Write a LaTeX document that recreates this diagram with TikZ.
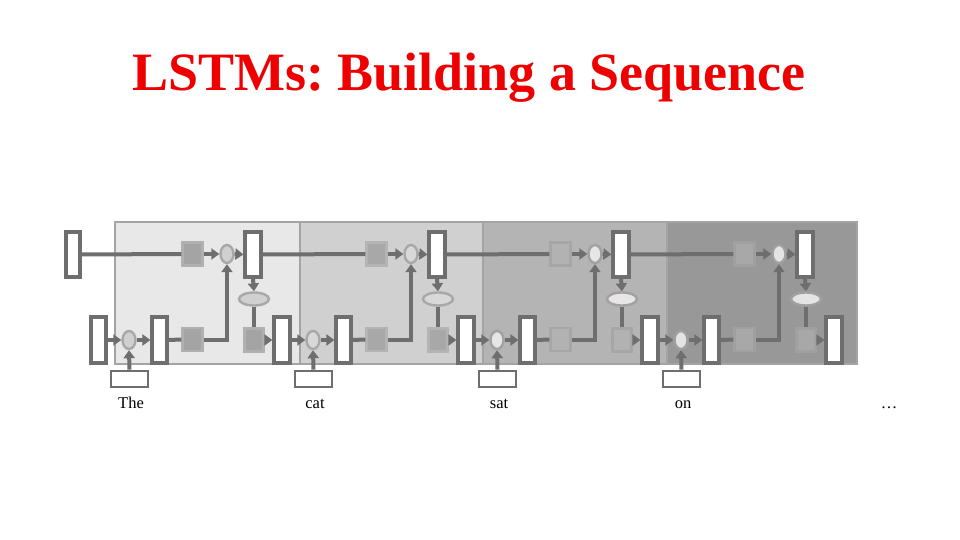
\documentclass[tikz,border=0pt]{standalone}
\usepackage{fontspec}
\setmainfont{Liberation Serif}
\usetikzlibrary{arrows.meta,shapes.geometric}
\definecolor{titlered}{HTML}{EE0000}
\definecolor{linegray}{HTML}{6E6E6E}
\definecolor{panelA}{HTML}{E8E8E8}
\definecolor{panelB}{HTML}{D0D0D0}
\definecolor{panelC}{HTML}{B4B4B4}
\definecolor{panelD}{HTML}{989898}
\definecolor{panelborder}{HTML}{A4A4A4}
\tikzset{
  conn/.style={draw=linegray, line width=4pt},
  arr/.style={conn, -{Triangle[length=8pt,width=11pt]}},
  vecbox/.style={draw=linegray, fill=white, line width=3.2pt, inner sep=0pt, minimum width=#1, minimum height=46pt},
  gatebox/.style={line width=2.4pt, inner sep=0pt, minimum width=20pt, minimum height=23pt},
  mulop/.style={ellipse, draw=#1, line width=2.4pt, inner sep=0pt, minimum width=13pt, minimum height=18pt},
  tanhop/.style={ellipse, draw=#1, line width=2.4pt, inner sep=0pt, minimum width=30pt, minimum height=13pt},
  inbox/.style={draw=linegray, fill=white, line width=2.6pt, inner sep=0pt, minimum width=37pt, minimum height=16pt},
  word/.style={font=\fontsize{16.5}{18}\selectfont, anchor=base},
  panel/.style={draw=panelborder, line width=2.5pt, fill=#1}
}
\begin{document}
\frenchspacing
\begin{tikzpicture}[x=1pt,y=-1pt]
\useasboundingbox (0,0) rectangle (960,540);
\fill[white] (0,0) rectangle (960,540);
% title
\node[anchor=base, text=titlered, font=\fontsize{54}{60}\selectfont\bfseries] (title) at (469,91) {LSTMs: Building a Sequence};
% panels
\path[panel=panelA] (115,222) rectangle (300,364);
\path[panel=panelB] (300,222) rectangle (483,364);
\path[panel=panelC] (483,222) rectangle (667,364);
\path[panel=panelD] (667,222) rectangle (857,364);
% initial states
\node[vecbox=14pt, minimum height=45pt] (c0) at (73,254.5) {};
\node[vecbox=15pt] (h0) at (98.5,340) {};
% cells
\foreach \k/\sq/\sqb/\ov/\ovb/\w [count=\i from 1] in {
  0/A4A4A4/B0B0B0/D0D0D0/A8A8A8/The,
  1/A8A8A8/B4B4B4/D8D8D8/A8A8A8/cat,
  2/B2B2B2/A6A6A6/E6E6E6/A4A0A0/sat,
  3/A8A8A8/A0A0A0/E4E4E4/A0A0A0/on}{
  \pgfmathsetmacro{\ox}{184*\k}
  \definecolor{sqf}{HTML}{\sq}
  \definecolor{sqd}{HTML}{\sqb}
  \definecolor{ovf}{HTML}{\ov}
  \definecolor{ovd}{HTML}{\ovb}
  \node[gatebox, draw=sqd, fill=sqf] (f\i) at (192.5+\ox,254) {};
  \node[mulop=ovd, fill=ovf] (mc\i) at (227+\ox,254) {};
  \node[vecbox=16pt, minimum height=45pt] (c\i) at (253+\ox,254.5) {};
  \node[tanhop=ovd, fill=ovf] (t\i) at (254+\ox,299) {};
  \node[gatebox, draw=sqd, fill=sqf, minimum width=19pt] (o\i) at (254+\ox,340) {};
  \node[vecbox=16pt] (h\i) at (282+\ox,340) {};
  \node[mulop=ovd, fill=ovf] (mi\i) at (129+\ox,340) {};
  \node[inbox] (x\i) at (129.5+\ox,379) {};
  \node[vecbox=15pt] (g\i) at (159.5+\ox,340) {};
  \node[gatebox, draw=sqd, fill=sqf] (ig\i) at (192.5+\ox,339.5) {};
  \node[word] (w\i) at (131+\ox,408) {\w};
}
% connectors
\foreach \i [evaluate=\i as \p using int(\i-1)] in {1,2,3,4}{
  \draw[conn] (c\p.east) -- (f\i.west);
  \draw[arr] (f\i.east) -- (mc\i.west);
  \draw[arr] (mc\i.east) -- (c\i.west);
  \draw[arr] (c\i.south) -- (t\i.north);
  \draw[conn] (t\i.south) -- (o\i.north);
  \draw[arr] (o\i.east) -- (h\i.west);
  \draw[arr] (h\p.east) -- (mi\i.west);
  \draw[arr] (x\i.north) -- (mi\i.south);
  \draw[arr] (mi\i.east) -- (g\i.west);
  \draw[conn] (g\i.east) -- (ig\i.west);
  \draw[arr] (ig\i.east) -| (mc\i.south);
}
\node[word] (dots) at (889,408) {\dots};
\end{tikzpicture}
\end{document}
